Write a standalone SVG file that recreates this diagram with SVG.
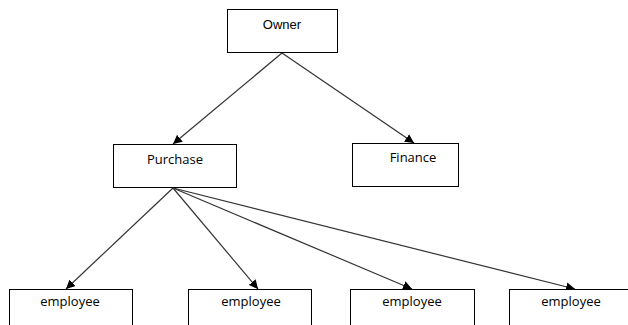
<svg xmlns="http://www.w3.org/2000/svg" width="628" height="325" viewBox="0 0 628 325">
<style>
.box{fill:#fff;stroke:#000;stroke-width:1}
.lbl{font-family:"Open Sans","Liberation Sans",sans-serif;font-size:13px;fill:#000;text-anchor:middle}
.arial{font-family:"Liberation Sans",Arial,sans-serif}
.ln{stroke:#333;stroke-width:1.2;fill:none;marker-end:url(#ah)}
</style>
<defs>
<marker id="ah" viewBox="0 0 10 10" refX="10" refY="5" markerWidth="9" markerHeight="9" markerUnits="userSpaceOnUse" orient="auto">
<path d="M0,0 L10,5 L0,10 z" fill="#000"/>
</marker>
</defs>
<rect width="628" height="325" fill="#fff"/>
<g id="connectors">
<line class="ln" x1="282" y1="53" x2="173" y2="144"/>
<line class="ln" x1="282" y1="53" x2="414" y2="143"/>
<line class="ln" x1="173" y1="188" x2="66" y2="289"/>
<line class="ln" x1="173" y1="188" x2="258" y2="289"/>
<line class="ln" x1="173" y1="188" x2="412" y2="289"/>
<line class="ln" x1="173" y1="188" x2="575" y2="289"/>
</g>
<g id="owner"><rect class="box" x="227.5" y="9.5" width="110" height="43"/><text class="lbl arial" x="282" y="29">Owner</text></g>
<g id="purchase"><rect class="box" x="113.5" y="144.5" width="123" height="43"/><text class="lbl" x="175" y="164">Purchase</text></g>
<g id="finance"><rect class="box" x="352.5" y="143.5" width="106" height="43"/><text class="lbl" x="413" y="162">Finance</text></g>
<g id="emp1"><rect class="box" x="9.5" y="289.5" width="123" height="45"/><text class="lbl" x="70" y="306">employee</text></g>
<g id="emp2"><rect class="box" x="188.5" y="289.5" width="123" height="45"/><text class="lbl" x="251" y="306">employee</text></g>
<g id="emp3"><rect class="box" x="350.5" y="289.5" width="124" height="45"/><text class="lbl" x="412" y="306">employee</text></g>
<g id="emp4"><rect class="box" x="509.5" y="289.5" width="125" height="45"/><text class="lbl" x="571" y="306">employee</text></g>
</svg>
